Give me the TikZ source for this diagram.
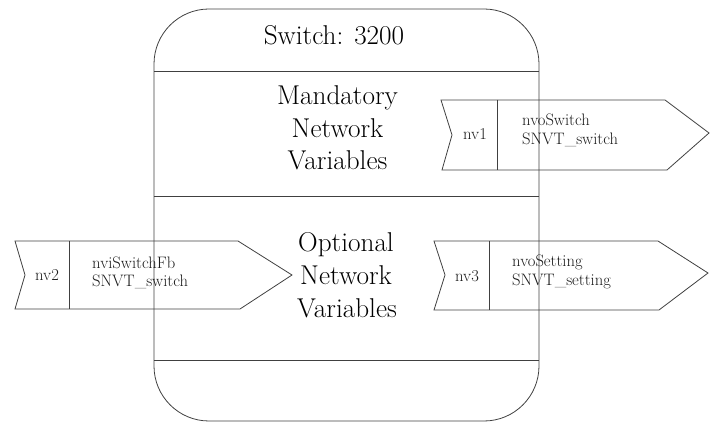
\documentclass[tikz,border=0pt]{standalone}
\definecolor{linegray}{HTML}{404040}
\definecolor{txtgray}{HTML}{1A1A1A}
\tikzset{
  outline/.style={draw=linegray, line width=0.8pt},
  divider/.style={draw=linegray, line width=1pt},
  bigtext/.style={anchor=base, inner sep=0pt, text=black, font=\fontsize{27.2}{32}\selectfont},
  smalltext/.style={anchor=base west, inner sep=0pt, text=txtgray, font=\fontsize{16.6}{19}\selectfont},
  nvtext/.style={anchor=base, inner sep=0pt, text=txtgray, font=\fontsize{16.6}{19}\selectfont},
}
\begin{document}
\begin{tikzpicture}[x=1pt, y=-1pt]
\useasboundingbox (0,0) rectangle (710,422);
% main block
\draw[outline, rounded corners=55pt] (154,9) rectangle (539,421);
\draw[divider] (154,72) -- (539,72);
\draw[divider] (154,197) -- (539,197);
\draw[divider] (154,360) -- (539,360);
\node[bigtext] (title) at (334,45) {Switch: 3200};
\node[bigtext] (mand1) at (337.5,105) {Mandatory};
\node[bigtext] (mand2) at (337.5,137.5) {Network};
\node[bigtext] (mand3) at (337.5,170) {Variables};
\node[bigtext] (opt1) at (346,252) {Optional};
\node[bigtext] (opt2) at (346,284.5) {Network};
\node[bigtext] (opt3) at (347,317) {Variables};
% nv1
\draw[outline] (441,100) -- (665,100) -- (709,133) -- (667,170) -- (442,170) -- (452,135) -- cycle;
\draw[outline] (497,100) -- (497,170);
\node[nvtext] (nv1) at (475,140) {nv1};
\node[smalltext] (nv1a) at (522,126) {nvoSwitch};
\node[smalltext] (nv1b) at (522,145) {SNVT\_switch};
% nv2
\draw[outline] (15,241) -- (238,241) -- (292,275) -- (240,309) -- (15,309) -- (25,275) -- cycle;
\draw[outline] (69,241) -- (69,309);
\node[nvtext] (nv2) at (47,281) {nv2};
\node[smalltext] (nv2a) at (92,269) {nviSwitchFb};
\node[smalltext] (nv2b) at (92,287) {SNVT\_switch};
% nv3
\draw[outline] (434,241) -- (658,241) -- (708,273) -- (659,310) -- (434,310) -- (445,275) -- cycle;
\draw[outline] (489,241) -- (489,310);
\node[nvtext] (nv3) at (467,282) {nv3};
\node[smalltext] (nv3a) at (512,267) {nvoSetting};
\node[smalltext] (nv3b) at (512,286) {SNVT\_setting};
\end{tikzpicture}
\end{document}
